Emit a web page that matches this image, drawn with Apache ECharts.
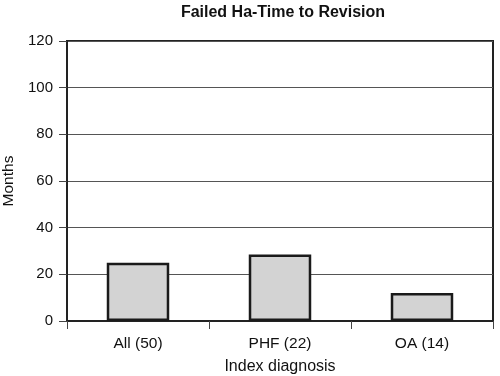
<!DOCTYPE html>
<html>
<head>
<meta charset="utf-8">
<script src="https://cdn.jsdelivr.net/npm/echarts@6/dist/echarts.min.js"></script>
<style>
  html, body { margin: 0; padding: 0; background: #fff; }
  #chart { width: 500px; height: 376px; }
</style>
</head>
<body>
<div id="chart"></div>
<script>
// data
let categories = ['All (50)', 'PHF (22)', 'OA (14)'];
let months = [25, 28.5, 12];
let yTicks = [0, 20, 40, 60, 80, 100, 120];

let chart = echarts.init(document.getElementById('chart'));
let font = 'Liberation Sans, Arial, Helvetica, sans-serif';
let option = {
  animation: false,
  title: {
    text: 'Failed Ha-Time to Revision',
    left: 278,
    textAlign: 'center',
    top: 0,
    textStyle: { fontFamily: font, fontSize: 16, fontWeight: 'bold', color: '#111' }
  },
  grid: {
    left: 67,
    right: 7,
    top: 41,
    bottom: 55,
    containLabel: false,
    outerBoundsMode: 'none',
    show: true,
    borderColor: '#222',
    borderWidth: 2
  },
  xAxis: {
    type: 'category',
    data: categories,
    name: 'Index diagnosis',
    nameLocation: 'middle',
    nameGap: 38,
    nameTextStyle: { fontFamily: font, fontSize: 16, color: '#111' },
    axisLine: { lineStyle: { color: '#222', width: 2 } },
    axisTick: { show: true, length: 8, lineStyle: { color: '#444', width: 1 } },
    axisLabel: { fontFamily: font, fontSize: 15.5, color: '#111', margin: 15 }
  },
  yAxis: {
    type: 'value',
    min: yTicks[0],
    max: yTicks[yTicks.length - 1],
    interval: 20,
    name: 'Months',
    nameLocation: 'middle',
    nameGap: 44,
    nameTextStyle: { fontFamily: font, fontSize: 15.5, color: '#111' },
    axisLine: { show: true, lineStyle: { color: '#222', width: 2 } },
    axisTick: { show: true, length: 8, lineStyle: { color: '#444', width: 1 } },
    axisLabel: { fontFamily: font, fontSize: 15, color: '#111', margin: 14 },
    splitLine: { lineStyle: { color: '#555', width: 1 } }
  },
  series: [
    {
      name: 'Months',
      type: 'bar',
      barWidth: '44%',
      data: months,
      itemStyle: { color: '#d3d3d3', borderColor: '#1a1a1a', borderWidth: 2.5 }
    }
  ]
};
chart.setOption(option);
</script>
</body>
</html>
